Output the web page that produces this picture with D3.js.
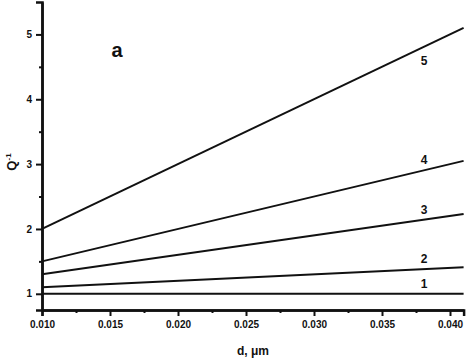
<!DOCTYPE html>
<html>
<head>
<meta charset="utf-8">
<script src="https://cdn.jsdelivr.net/npm/d3@7"></script>
<style>
  body { margin: 0; background: #fff; }
  text { font-family: "Liberation Sans", Arial, sans-serif; font-weight: bold; fill: #111; }
</style>
</head>
<body>
<svg width="467" height="359"></svg>
<script>
// curve labels and values at d = 0.010 and d = 0.041
var curveNames = ["1", "2", "3", "4", "5"];
var dValues = [0.010, 0.041];
var qStart = [1.0, 1.1, 1.3, 1.5, 2.0];
var qEnd = [1.0, 1.41, 2.23, 3.05, 5.1];
var xTicks = [0.010, 0.015, 0.020, 0.025, 0.030, 0.035, 0.040];
var yTicks = [1, 2, 3, 4, 5];

var svg = d3.select("svg");
var padL = 42, padT = 2, padB = 310;

var x = d3.scaleLinear().domain([0.010, 0.041]).range([padL, padL + 68 * 6.2]);
var y = d3.scaleLinear().domain([0.75, 5.5]).range([padB, padT]);

// minor ticks
var xMinor = d3.range(0.0125, 0.041, 0.005);
var yMinor = d3.range(1.5, 5.5, 1);

var gx = svg.append("g").attr("transform", "translate(0," + padB + ")");
gx.call(d3.axisBottom(x).tickValues(xTicks).tickFormat(d3.format(".3f")).tickSizeOuter(0).tickSize(6).tickPadding(5));
gx.append("g").call(d3.axisBottom(x).tickValues(xMinor).tickFormat("").tickSize(3).tickSizeOuter(0));
gx.selectAll("text").style("font-size", "10px").attr("fill", "#111");

var gy = svg.append("g").attr("transform", "translate(" + padL + ",0)");
gy.call(d3.axisLeft(y).tickValues(yTicks).tickFormat(d3.format("d")).tickSizeOuter(0).tickSize(6).tickPadding(4));
gy.append("g").call(d3.axisLeft(y).tickValues(yMinor).tickFormat("").tickSize(3).tickSizeOuter(0));
gy.selectAll("text").style("font-size", "10px").attr("fill", "#111");

svg.selectAll(".domain").attr("stroke", "#111").attr("stroke-width", 2.5);
svg.selectAll(".tick line").attr("stroke", "#111").attr("stroke-width", 2);

// curves
var line = d3.line().x(d => x(d[0])).y(d => y(d[1]));
curveNames.forEach(function(name, i) {
  var pts = [[dValues[0], qStart[i]], [dValues[1], qEnd[i]]];
  svg.append("path").attr("d", line(pts))
    .attr("fill", "none").attr("stroke", "#111").attr("stroke-width", 2);
  var yv = qStart[i] + (qEnd[i] - qStart[i]) * (0.0381 - 0.010) / 0.031;
  // label 5 sits under its line, the others above
  var dy = name === "5" ? 18 : -6;
  svg.append("text").attr("x", x(0.0381)).attr("y", y(yv) + dy)
    .attr("text-anchor", "middle").style("font-size", "12px").text(name);
});

// panel letter
svg.append("text").attr("x", 117).attr("y", 57).attr("text-anchor", "middle")
  .style("font-size", "20px").text("a");

// axis titles
svg.append("text").attr("x", 253).attr("y", 355).attr("text-anchor", "middle")
  .style("font-size", "12px").text("d, \u03bcm");
svg.append("text").attr("transform", "translate(16,162) rotate(-90)")
  .attr("text-anchor", "middle").style("font-size", "13px")
  .html('Q<tspan dy="-5" style="font-size:8px">-1</tspan>');
</script>
</body>
</html>
